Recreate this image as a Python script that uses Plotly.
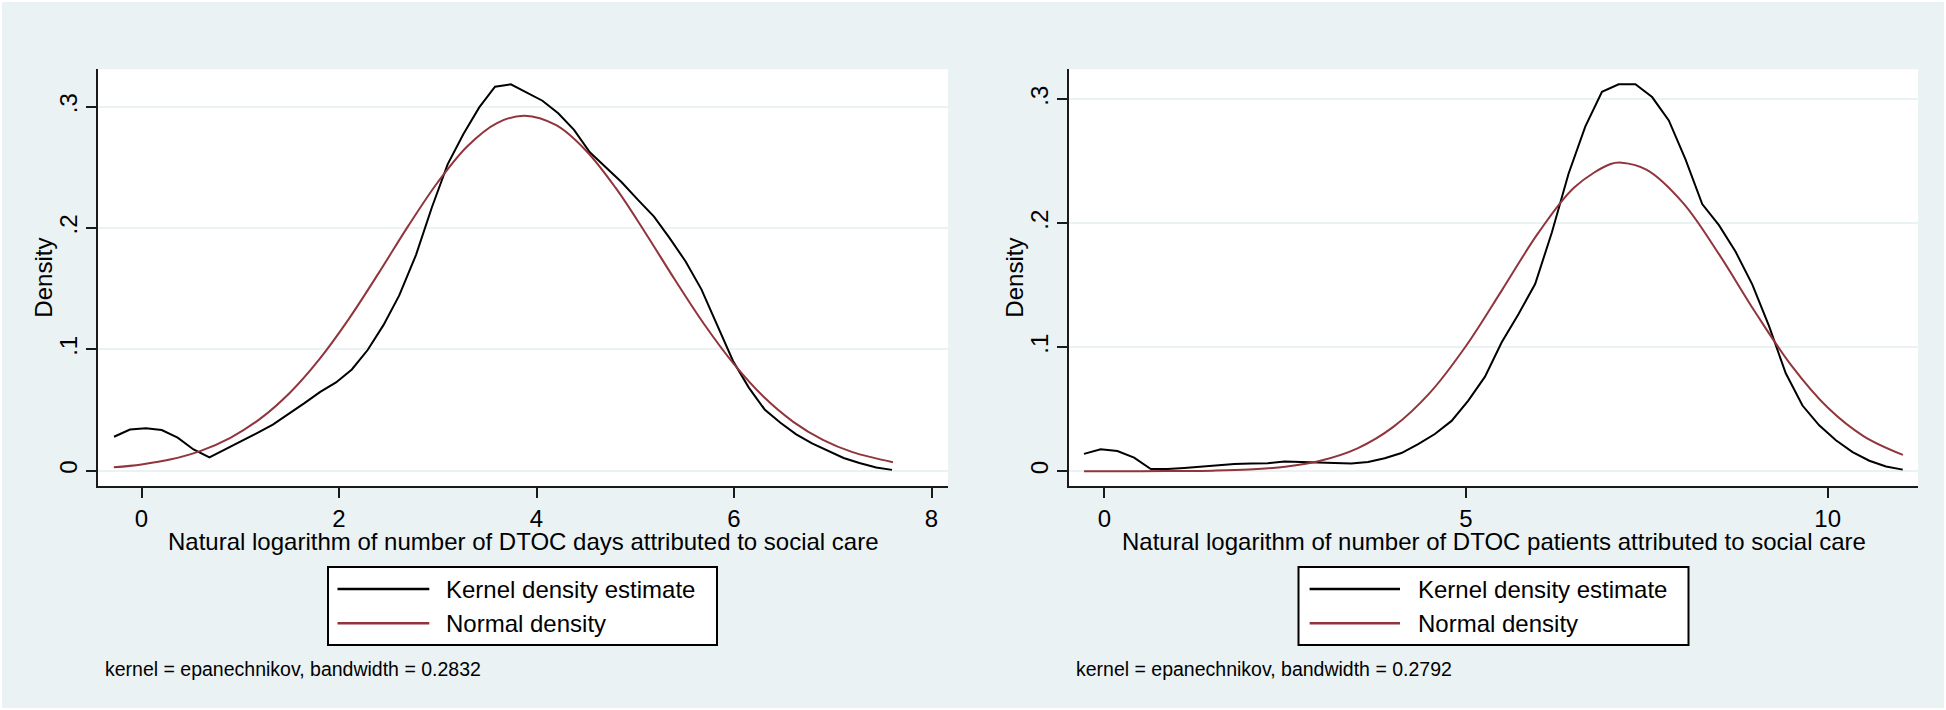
import plotly.graph_objects as go

# ---------------- data ----------------
left_kde_x = [-0.278, -0.117, 0.044, 0.205, 0.366, 0.527, 0.688, 0.849, 1.01, 1.17,
              1.33, 1.49, 1.65, 1.81, 1.97, 2.13, 2.29, 2.45, 2.61, 2.78,
              2.94, 3.10, 3.26, 3.42, 3.58, 3.74, 3.90, 4.06, 4.22, 4.38,
              4.54, 4.70, 4.86, 5.03, 5.19, 5.35, 5.51, 5.67, 5.83, 5.99,
              6.15, 6.31, 6.47, 6.63, 6.79, 6.95, 7.11, 7.27, 7.44, 7.60]
left_kde_y = [0.028, 0.034, 0.035, 0.0335, 0.0272, 0.0175, 0.011, 0.0175, 0.0245, 0.031,
              0.038, 0.0465, 0.0557, 0.065, 0.0728, 0.0835, 0.0995, 0.120, 0.1445, 0.178,
              0.217, 0.2525, 0.2775, 0.2995, 0.3166, 0.3185, 0.3115, 0.305, 0.2946, 0.281,
              0.2625, 0.2505, 0.238, 0.223, 0.2095, 0.1915, 0.1725, 0.1495, 0.1205, 0.0905,
              0.0685, 0.0505, 0.0395, 0.0300, 0.0225, 0.0163, 0.0105, 0.0063, 0.0027, 0.0007]

left_norm_x = [-0.28, 0.0, 0.3, 0.6, 0.9, 1.2, 1.5, 1.8, 2.1, 2.4, 2.7, 3.0, 3.3, 3.6,
               3.88, 4.2, 4.5, 4.8, 5.1, 5.4, 5.7, 6.0, 6.3, 6.6, 6.9, 7.2, 7.61]
left_norm_y = [0.0028, 0.0052, 0.0094, 0.0164, 0.0271, 0.0427, 0.0641, 0.0918, 0.1252,
               0.1627, 0.2016, 0.2378, 0.2675, 0.2866, 0.2927, 0.2848, 0.2640, 0.2333,
               0.1964, 0.1576, 0.1205, 0.0878, 0.0609, 0.0403, 0.0254, 0.0153, 0.0070]

right_kde_x = [-0.281, -0.050, 0.181, 0.412, 0.643, 0.874, 1.105, 1.336, 1.567, 1.798,
               2.029, 2.260, 2.491, 2.722, 2.953, 3.184, 3.415, 3.646, 3.877, 4.108,
               4.339, 4.570, 4.801, 5.032, 5.263, 5.494, 5.725, 5.956, 6.187, 6.418,
               6.649, 6.880, 7.111, 7.342, 7.573, 7.804, 8.035, 8.266, 8.497, 8.728,
               8.959, 9.190, 9.421, 9.652, 9.883, 10.114, 10.345, 10.576, 10.807, 11.038]
right_kde_y = [0.0140, 0.0177, 0.0163, 0.0110, 0.0018, 0.0019, 0.0027, 0.0037, 0.0048, 0.0059,
               0.0062, 0.0065, 0.0078, 0.0073, 0.0067, 0.0065, 0.0062, 0.0075, 0.0105, 0.0147,
               0.0218, 0.0300, 0.0406, 0.0570, 0.0763, 0.1040, 0.1267, 0.1510, 0.1925, 0.2400,
               0.2780, 0.3060, 0.3121, 0.3121, 0.3018, 0.2830, 0.2515, 0.2155, 0.1985, 0.1770,
               0.1505, 0.1170, 0.0790, 0.0530, 0.0370, 0.0250, 0.0155, 0.0085, 0.0039, 0.0013]

right_norm_x = [-0.28, 0.5, 1.0, 1.5, 2.0, 2.5, 3.0, 3.5, 4.0, 4.5, 5.0, 5.5, 6.0, 6.5,
                7.0, 7.153, 7.5, 8.0, 8.5, 9.0, 9.5, 10.0, 10.5, 11.04]
right_norm_y = [0.0000, 0.0000, 0.0002, 0.0005, 0.0014, 0.0037, 0.0087, 0.0185, 0.0360,
                0.0632, 0.1010, 0.1463, 0.1922, 0.2291, 0.2478, 0.2489, 0.2431, 0.2165,
                0.1749, 0.1282, 0.0852, 0.0514, 0.0282, 0.0132]

y_tick_vals = [0, 0.1, 0.2, 0.3]
y_tick_text = ["0", ".1", ".2", ".3"]
left_x_ticks = [0, 2, 4, 6, 8]
right_x_ticks = [0, 5, 10]

series_names = ["Kernel density estimate", "Normal density"]
x_titles = ["Natural logarithm of number of DTOC days attributed to social care",
            "Natural logarithm of number of DTOC patients attributed to social care"]
y_title = "Density"
notes = ["kernel = epanechnikov, bandwidth = 0.2832",
         "kernel = epanechnikov, bandwidth = 0.2792"]

# ---------------- styling ----------------
W, H = 1946, 710
BG = "#EAF2F3"
KDE_COLOR = "#000000"
NORM_COLOR = "#90353B"
AXIS_COLOR = "#1a1a1a"
FONT = "Liberation Sans, Arial, sans-serif"
FS = 24


def px_x(p):
    return p / W


def px_y(p):
    return 1 - p / H


fig = go.Figure()

fig.add_trace(go.Scatter(x=left_kde_x, y=left_kde_y, mode="lines", name=series_names[0],
                         line=dict(color=KDE_COLOR, width=2), xaxis="x", yaxis="y",
                         showlegend=False))
fig.add_trace(go.Scatter(x=left_norm_x, y=left_norm_y, mode="lines", name=series_names[1],
                         line=dict(color=NORM_COLOR, width=2, shape="spline"), xaxis="x", yaxis="y",
                         showlegend=False))
fig.add_trace(go.Scatter(x=right_kde_x, y=right_kde_y, mode="lines", name=series_names[0],
                         line=dict(color=KDE_COLOR, width=2), xaxis="x2", yaxis="y2",
                         showlegend=False))
fig.add_trace(go.Scatter(x=right_norm_x, y=right_norm_y, mode="lines", name=series_names[1],
                         line=dict(color=NORM_COLOR, width=2, shape="spline"), xaxis="x2", yaxis="y2",
                         showlegend=False))

# panel geometry in pixels
panels = [
    dict(x0=98, x1=948, xr=[-0.4405, 8.167], yr=[-0.0126, 0.3309], xt=left_x_ticks,
         ytitle_x=44, leg_x0=328, leg_x1=717, line_x0=337.5, line_x1=429.3, text_x=444,
         note_x=103),
    dict(x0=1069, x1=1918, xr=[-0.488, 11.249], yr=[-0.0119, 0.3242], xt=right_x_ticks,
         ytitle_x=1015, leg_x0=1298.5, leg_x1=1688.5, line_x0=1309.6, line_x1=1400, text_x=1415.6,
         note_x=1074),
]
PLOT_TOP, PLOT_BOTTOM = 69.3, 486

axis_common = dict(showline=True, linecolor=AXIS_COLOR, linewidth=1.5, ticks="outside",
                   ticklen=10, tickwidth=1.5, tickcolor=AXIS_COLOR, zeroline=False,
                   tickfont=dict(family=FONT, size=FS, color="black"))

shapes = []
annotations = []
for i, p in enumerate(panels):
    sx = "" if i == 0 else "2"
    fig.update_layout(**{
        "xaxis" + sx: dict(domain=[px_x(p["x0"]), px_x(p["x1"])], range=p["xr"],
                           anchor="y" + sx, tickvals=p["xt"], showgrid=False, **axis_common),
        "yaxis" + sx: dict(domain=[px_y(PLOT_BOTTOM), px_y(PLOT_TOP)], range=p["yr"],
                           anchor="x" + sx, tickvals=y_tick_vals, ticktext=y_tick_text,
                           tickangle=-90, showgrid=True, gridcolor=BG, gridwidth=1.5,
                           **axis_common),
    })
    cx = (p["x0"] + p["x1"]) / 2
    annotations.append(dict(text=x_titles[i], x=px_x(cx), y=px_y(541), xref="paper", yref="paper",
                            xanchor="center", yanchor="middle", showarrow=False,
                            font=dict(family=FONT, size=FS, color="black")))
    annotations.append(dict(text=y_title, x=px_x(p["ytitle_x"]), y=px_y((PLOT_TOP + PLOT_BOTTOM) / 2),
                            xref="paper", yref="paper", xanchor="center", yanchor="middle",
                            textangle=-90, showarrow=False,
                            font=dict(family=FONT, size=FS, color="black")))
    # legend box
    shapes.append(dict(type="rect", xref="paper", yref="paper",
                       x0=px_x(p["leg_x0"]), x1=px_x(p["leg_x1"]), y0=px_y(645), y1=px_y(567),
                       line=dict(color="black", width=2), fillcolor="white"))
    for k, (ly, col) in enumerate([(589, KDE_COLOR), (623.3, NORM_COLOR)]):
        shapes.append(dict(type="line", xref="paper", yref="paper",
                           x0=px_x(p["line_x0"]), x1=px_x(p["line_x1"]), y0=px_y(ly), y1=px_y(ly),
                           line=dict(color=col, width=2.5)))
        annotations.append(dict(text=series_names[k], x=px_x(p["text_x"]), y=px_y(ly),
                                xref="paper", yref="paper", xanchor="left", yanchor="middle",
                                showarrow=False, font=dict(family=FONT, size=FS, color="black")))
    annotations.append(dict(text=notes[i], x=px_x(p["note_x"]), y=px_y(669), xref="paper",
                            yref="paper", xanchor="left", yanchor="middle", showarrow=False,
                            font=dict(family=FONT, size=19.5, color="black")))

# thin white outer border
shapes.append(dict(type="rect", xref="paper", yref="paper", x0=0, x1=1, y0=0, y1=1,
                   line=dict(color="white", width=4), fillcolor="rgba(0,0,0,0)"))

fig.update_layout(width=W, height=H, margin=dict(l=0, r=0, t=0, b=0),
                  paper_bgcolor=BG, plot_bgcolor="white", showlegend=False,
                  shapes=shapes, annotations=annotations,
                  font=dict(family=FONT, size=FS, color="black"))

fig.write_html("out.html", config={"displayModeBar": False},
               post_script="document.body.style.margin='0';document.body.style.overflow='hidden';")
